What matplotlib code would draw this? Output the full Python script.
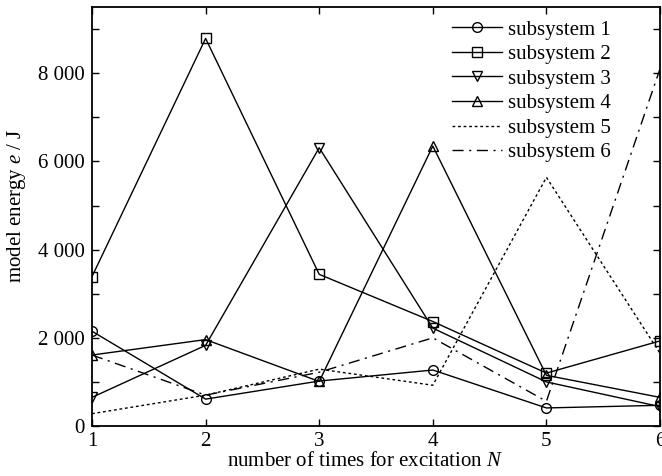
import matplotlib
matplotlib.use("Agg")
import matplotlib.pyplot as plt
from matplotlib.ticker import FuncFormatter, MultipleLocator

plt.rcParams['font.family'] = ['Liberation Serif', 'DejaVu Serif']
plt.rcParams['mathtext.fontset'] = 'custom'
plt.rcParams['mathtext.it'] = 'Liberation Serif:italic'
plt.rcParams['mathtext.rm'] = 'Liberation Serif'

N = [1, 2, 3, 4, 5, 6]
sub1 = [2150, 610, 1020, 1270, 410, 470]
sub2 = [3390, 8790, 3440, 2370, 1200, 1930]
sub3 = [650, 1830, 6310, 2220, 1000, 440]
sub4 = [1610, 1960, 1010, 6350, 1150, 650]
sub5 = [280, 700, 1290, 925, 5640, 1650]
sub6 = [1610, 700, 1220, 2000, 560, 8100]
labels = ['subsystem 1', 'subsystem 2', 'subsystem 3', 'subsystem 4',
          'subsystem 5', 'subsystem 6']

fig = plt.figure(figsize=(6.62, 4.76), dpi=100)
ax = fig.add_axes([0.139, 0.105, 0.858, 0.880])

mk = dict(color='black', lw=1.0, markersize=7, fillstyle='none', markeredgewidth=1.0)
ax.plot(N, sub1, marker='o', label=labels[0], **mk)
ax.plot(N, sub2, marker='s', label=labels[1], **mk)
ax.plot(N, sub3, marker='v', label=labels[2], **mk)
ax.plot(N, sub4, marker='^', label=labels[3], **mk)
ax.plot(N, sub5, color='black', lw=1.0, linestyle=(0, (2, 2)), label=labels[4])
ax.plot(N, sub6, color='black', lw=1.0, linestyle=(0, (8, 4, 1.5, 4)), label=labels[5])

ax.set_xlim(1, 6)
ax.set_ylim(0, 9500)
ax.set_xticks(N)
ax.yaxis.set_major_locator(MultipleLocator(1000))

def yfmt(v, pos):
    v = int(round(v))
    if v % 2000 != 0:
        return ''
    if v == 0:
        return '0'
    return f"{v:,}".replace(',', ' ')

ax.yaxis.set_major_formatter(FuncFormatter(yfmt))
ax.tick_params(direction='in', top=True, right=True, length=5, width=1.0,
               labelsize=15)
ax.tick_params(axis='y', pad=5)
ax.tick_params(axis='x', pad=4)
for s in ax.spines.values():
    s.set_linewidth(1.3)

ax.set_xlabel('number of times for excitation $N$', fontsize=15, labelpad=0)
ax.set_ylabel('model energy $e$ / J', fontsize=15, labelpad=2)
ax.xaxis.set_label_coords(0.48, -0.062)
ax.yaxis.set_label_coords(-0.113, 0.526)

leg = ax.legend(loc='upper left', frameon=False, fontsize=15, handlelength=2.4,
                handletextpad=0.3, labelspacing=0.24, borderaxespad=0.0,
                borderpad=0.0, bbox_to_anchor=(452 / 662, 1 - 20 / 476),
                bbox_transform=fig.transFigure)

fig.savefig('out.png', dpi=100)
